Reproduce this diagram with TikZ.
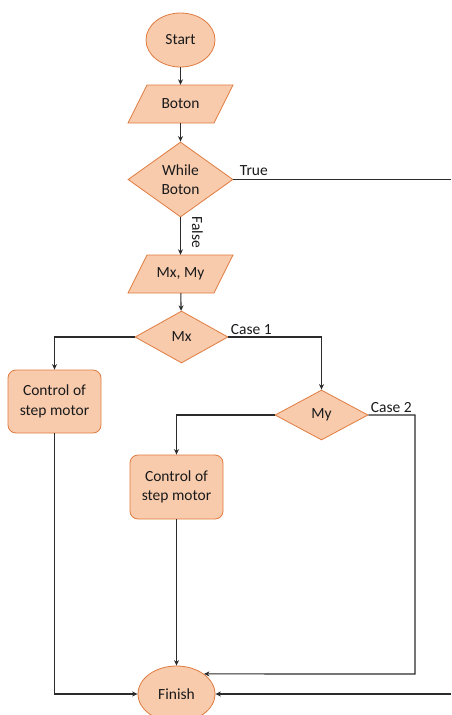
\documentclass[tikz,border=0pt]{standalone}
\usepackage{fontspec}
\setmainfont{Carlito}
\usetikzlibrary{shapes.geometric,arrows.meta}
\definecolor{peach}{HTML}{F8CBAD}
\definecolor{orng}{HTML}{E07B3F}
\definecolor{ln}{HTML}{2B2B2B}
\definecolor{txt}{HTML}{1A1A1A}
\newcommand{\myio}[3]{%
  \draw[iostyle] (#2) ++(-52.5,19) -- ++(86,0) -- ++(19,-38) -- ++(-86,0) -- cycle;
  \node[iobox] (#1) at (#2) {#3};}
\begin{document}
\begin{tikzpicture}[x=1pt,y=-1pt,
  every node/.append style={font=\fontsize{15.5}{19.5}\selectfont, text=txt},
  term/.style={ellipse, fill=peach, draw=orng, line width=0.8pt, inner sep=0pt},
  iostyle/.style={fill=peach, draw=orng, line width=0.8pt},
  iobox/.style={rectangle, inner sep=0pt, minimum height=38pt, minimum width=105pt},
  dec/.style={diamond, fill=peach, draw=orng, line width=0.8pt, inner sep=0pt},
  proc/.style={rectangle, rounded corners=8pt, fill=peach, draw=orng, line width=0.8pt, inner sep=0pt, minimum width=93pt, minimum height=63pt, align=center},
  conn/.style={draw=ln, line width=1.1pt},
  arr/.style={conn, -{Stealth[length=5.5pt,width=5pt]}},
  lbl/.style={inner sep=2pt}
]
\useasboundingbox (0,0) rectangle (451,715);

\node[term, minimum width=69pt, minimum height=54pt] (start) at (180.5,40) {Start};
\myio{boton}{180.5,104}{Boton}
\node[dec, minimum width=105pt, minimum height=75pt] (while) at (180.5,179.5) {};
\node[align=center] at (while.center) (whilet) {While\\Boton};
\myio{mxmy}{180.5,274}{Mx, My}
\node[dec, minimum width=93pt, minimum height=52pt] (mx) at (181.5,337) {};
\node at (mx.center) (mxt) {Mx};
\node[proc] (box1) at (54.5,401.5) {Control of\\step motor};
\node[dec, minimum width=93pt, minimum height=50pt] (my) at (321.5,415) {};
\node at (my.center) (myt) {My};
\node[proc, minimum height=64pt] (box2) at (176.5,487) {Control of\\step motor};
\node[term, minimum width=77pt, minimum height=56pt] (finish) at (176.5,694) {Finish};

\coordinate (trueend) at (451,179.5);
\coordinate (c2) at (415,674);
\coordinate (rightend) at (451,694);

\draw[arr] (start) -- (boton);
\draw[arr] (boton) -- (while);
\draw[conn] (while.east) node[lbl, above right, xshift=4pt, yshift=1pt] {True} -- (trueend);
\draw[arr] (while) -- node[pos=0.4, inner sep=0pt, anchor=south, yshift=0pt, xshift=11pt, rotate=-90] {False} (mxmy);
\draw[arr] (mxmy) -- (mx);
\draw[arr] (mx.west) -| (box1.north);
\draw[arr] (mx.east) node[lbl, above right] {Case 1} -| (my.north);
\draw[arr] (my.west) -| (box2.north);
\draw[arr] (my.east) node[lbl, above right] {Case 2} -| (c2) -- (finish.north east);
\draw[arr] (box2) -- (finish);
\draw[arr] (box1.south) |- (finish.west);
\draw[arr] (rightend) -- (finish.east);
\end{tikzpicture}
\end{document}
